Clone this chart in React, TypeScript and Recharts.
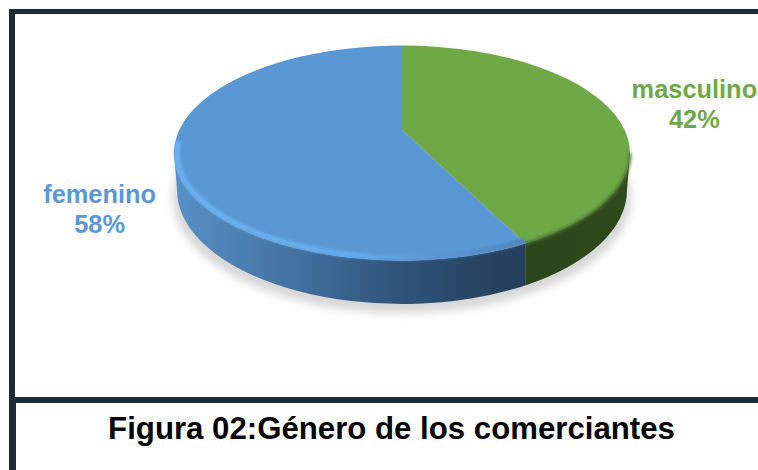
import React from 'react';
import { PieChart, Pie, Cell } from 'recharts';

const categories = ['masculino', 'femenino'];
const shares = [42, 58];
const sliceColors = ['#6fa947', '#5a98d5'];
const titleText = 'Figura 02:Género de los comerciantes';

const data = categories.map((name, i) => ({ name, value: shares[i] }));

// 3D look of the pie: perspective squash of the circle Recharts gives us
const RX = 228;
const RY = 107.5;
const VERTEX_DROP = 23; // slice vertex sits above the ellipse centre
const PERSP = 0.209;
const WARP = 0.076;
const WALL_RX = 225;
const WALL_RY = 114;
const WALL_DROP = 37;
const INSET = 3;

const rad = (d: number) => (d * Math.PI) / 180;

// position on the top ellipse for a clockwise-from-top angle
const rimPoint = (cx: number, cy: number, theta: number) => {
  const t = rad(theta) + WARP * Math.sin(rad(theta));
  const k = 1 + PERSP * Math.cos(t);
  const a = RX * Math.sqrt(1 - PERSP * PERSP);
  const x = (a * Math.sin(t)) / k;
  const sign = Math.cos(t) >= 0 ? -1 : 1;
  const y = sign * RY * Math.sqrt(Math.max(0, 1 - (x * x) / (RX * RX)));
  return { x: cx + x, y: cy + y };
};

const PieSlice3D = (props: any) => {
  const { cx, cy, startAngle, endAngle, fill, payload } = props;
  const t0 = 90 - startAngle;
  const t1 = 90 - endAngle;
  const p0 = rimPoint(cx, cy, t0);
  const p1 = rimPoint(cx, cy, t1);
  const large = t1 - t0 > 180 ? 1 : 0;
  const top = `M${cx},${cy - VERTEX_DROP} L${p0.x},${p0.y} A${RX},${RY} 0 ${large} 1 ${p1.x},${p1.y} Z`;

  // front wall: only the part of the slice facing the viewer
  const xa = t0 <= 90 ? cx + RX : p0.x;
  const xb = t1 >= 270 ? cx - RX : p1.x;
  const yTop = (x: number) => cy + RY * Math.sqrt(Math.max(0, 1 - ((x - cx) / RX) ** 2));
  const lowX = (x: number) => Math.min(cx + WALL_RX, Math.max(cx - WALL_RX, x));
  const yLow = (x: number) => cy + WALL_DROP + WALL_RY * Math.sqrt(Math.max(0, 1 - ((lowX(x) - cx) / WALL_RX) ** 2));
  const rim = `M${xa},${yTop(xa)} A${RX},${RY} 0 0 1 ${xb},${yTop(xb)}`;
  const wall = `${rim} L${lowX(xb)},${yLow(xb)} A${WALL_RX},${WALL_RY} 0 0 0 ${lowX(xa)},${yLow(xa)} Z`;
  const isFemale = payload?.name === 'femenino' || props.name === 'femenino';

  // bevel highlight runs just inside the edge and a little way up the left side
  const ix = RX - INSET;
  const iy = RY - INSET;
  const hiStartY = cy + iy * Math.sqrt(Math.max(0, 1 - ((xa - cx) / ix) ** 2));
  const hiEndX = cx - ix * Math.cos(rad(6));
  const hiEndY = cy - iy * Math.sin(rad(6));
  const highlight = `M${xa},${hiStartY} A${ix},${iy} 0 0 1 ${hiEndX},${hiEndY}`;

  return (
    <g>
      <path d={wall} fill={isFemale ? 'url(#wallBlue)' : 'url(#wallGreen)'} />
      <path d={top} fill={fill} />
      {isFemale ? (
        <path d={highlight} fill="none" stroke="url(#rimBlue)" strokeWidth={5} filter="url(#rimBlur)" />
      ) : (
        <path d={rim} fill="none" stroke="#4a7530" strokeWidth={3} filter="url(#rimBlur)" />
      )}
    </g>
  );
};

const SliceLabel = (props: any) => {
  const { cx, cy, midAngle, name, percent, fill } = props;
  const x = cx - 5 + 307 * Math.cos(rad(midAngle));
  const y = cy + 3.5 - 212 * Math.sin(rad(midAngle));
  return (
    <text
      x={x}
      y={y}
      textAnchor="middle"
      fill={fill}
      fontFamily="'Liberation Sans', Arial, sans-serif"
      fontWeight="bold"
      fontSize={25.4}
    >
      <tspan x={x} dy={-6}>{name}</tspan>
      <tspan x={x} dy={30}>{`${Math.round(percent * 100)}%`}</tspan>
    </text>
  );
};

const frame: React.CSSProperties = { position: 'absolute', background: '#212b38' };

export default function App() {
  return (
    <div style={{ position: 'absolute', left: 0, top: 0, width: 758, height: 470, background: '#fff', overflow: 'hidden' }}>
      <div style={{ ...frame, left: 9, top: 9, width: 749, height: 5 }} />
      <div style={{ ...frame, left: 9, top: 9, width: 6, height: 388 }} />
      <div style={{ ...frame, left: 9, top: 397, width: 749, height: 6 }} />
      <div style={{ ...frame, left: 9, top: 397, width: 7, height: 73 }} />
      <PieChart width={758} height={470} style={{ position: 'absolute', left: 0, top: 0 }} margin={{ top: 0, right: 0, bottom: 0, left: 0 }}>
        <defs>
          <linearGradient id="wallBlue" gradientUnits="userSpaceOnUse" x1={174} y1={0} x2={525} y2={0}>
            <stop offset="0%" stopColor="#5890c8" />
            <stop offset="15%" stopColor="#4e84b8" />
            <stop offset="36%" stopColor="#41719f" />
            <stop offset="55%" stopColor="#345b84" />
            <stop offset="78%" stopColor="#2a4a6c" />
            <stop offset="100%" stopColor="#233e5a" />
          </linearGradient>
          <linearGradient id="wallGreen" gradientUnits="userSpaceOnUse" x1={525} y1={0} x2={630} y2={0}>
            <stop offset="0%" stopColor="#2b441a" />
            <stop offset="100%" stopColor="#30491b" />
          </linearGradient>
          <linearGradient id="rimBlue" gradientUnits="userSpaceOnUse" x1={174} y1={0} x2={525} y2={0}>
            <stop offset="0%" stopColor="#6db4f5" />
            <stop offset="50%" stopColor="#68aded" />
            <stop offset="72%" stopColor="#5a98d5" />
            <stop offset="100%" stopColor="#4d84b8" />
          </linearGradient>
          <filter id="rimBlur" x="-10%" y="-10%" width="120%" height="120%">
            <feGaussianBlur stdDeviation="1.6" />
          </filter>
          <filter id="shadowBlur" x="-10%" y="-20%" width="120%" height="140%">
            <feGaussianBlur stdDeviation="5" />
          </filter>
        </defs>
        <ellipse cx={402} cy={198} rx={229} ry={115} fill="#000" opacity={0.16} filter="url(#shadowBlur)" />
        <Pie
          data={data}
          dataKey="value"
          nameKey="name"
          cx={402}
          cy={153}
          outerRadius={RX}
          startAngle={90}
          endAngle={-270}
          stroke="none"
          isAnimationActive={false}
          shape={PieSlice3D}
          label={SliceLabel}
          labelLine={false}
        >
          {data.map((d, i) => (
            <Cell key={d.name} fill={sliceColors[i]} />
          ))}
        </Pie>
      </PieChart>
      <div
        style={{
          position: 'absolute',
          left: 8,
          width: 767,
          top: 411,
          textAlign: 'center',
          fontFamily: "'Liberation Sans', Arial, sans-serif",
          fontWeight: 'bold',
          fontSize: 31.2,
          lineHeight: '36px',
          color: '#000',
          whiteSpace: 'nowrap',
        }}
      >
        {titleText}
      </div>
    </div>
  );
}
